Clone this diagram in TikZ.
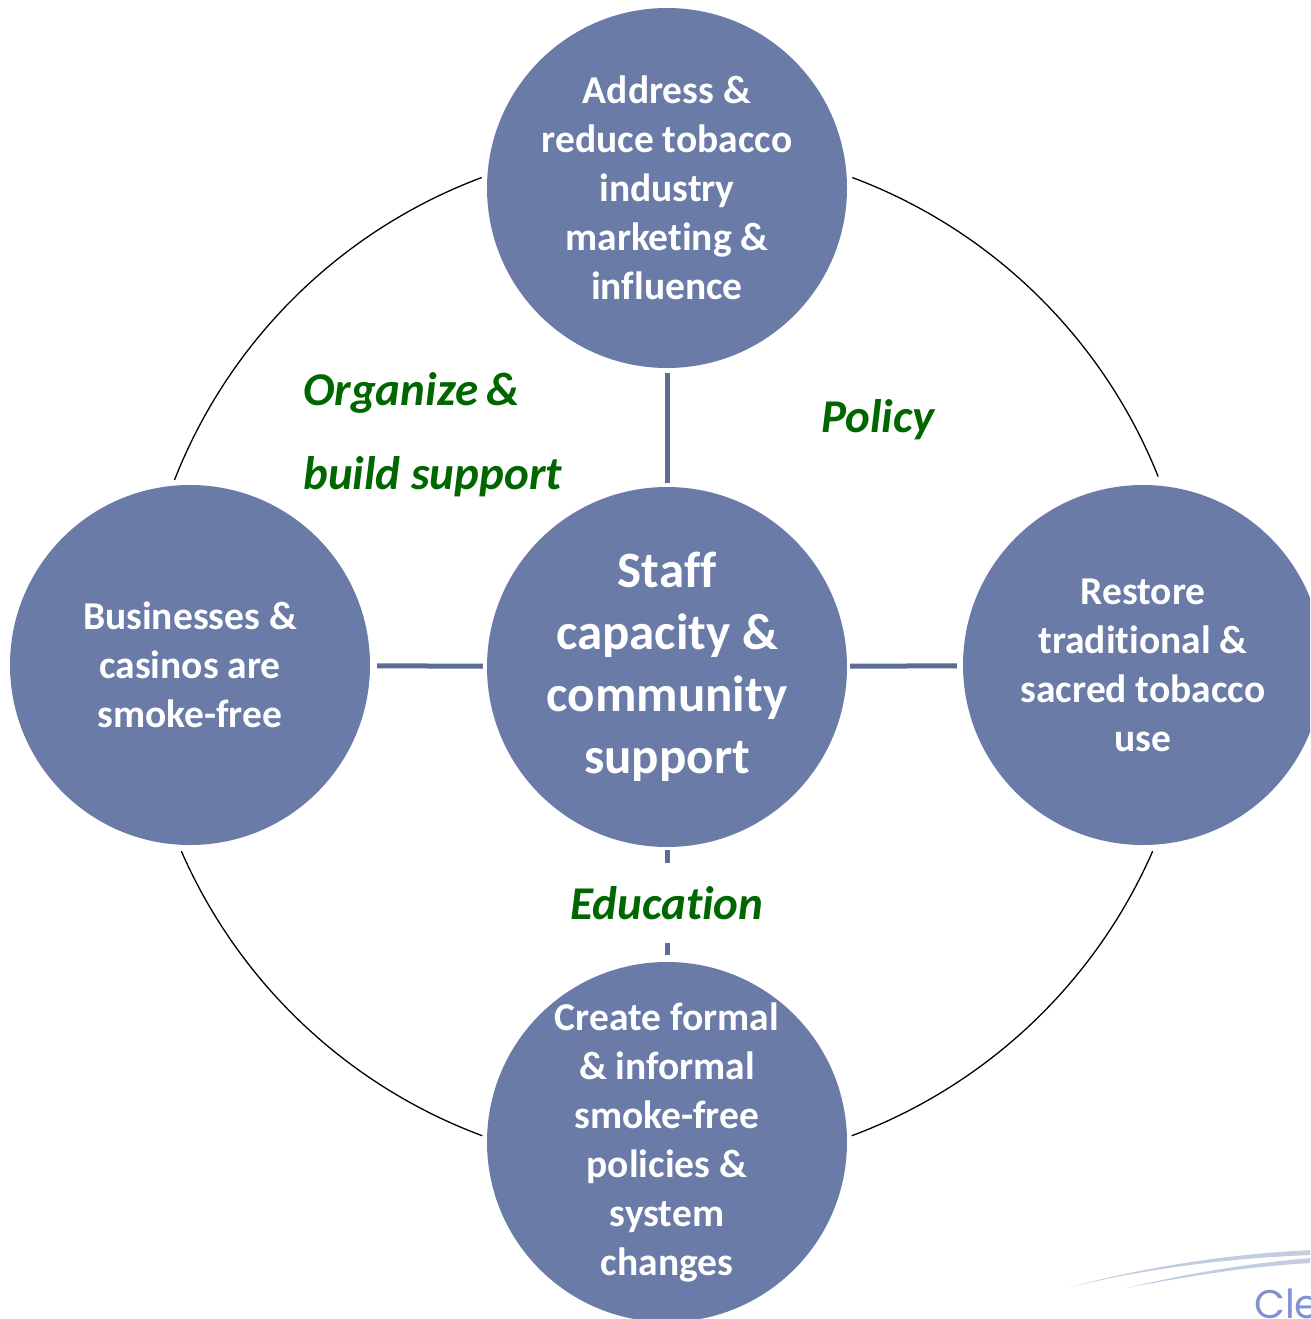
\documentclass[tikz,border=0pt]{standalone}
\usepackage{fontspec}
\setmainfont[Ligatures=NoCommon]{Carlito}
\newfontfamily\logofont{Poppins}
\definecolor{disc}{HTML}{6A7BA8}
\definecolor{spoke}{HTML}{5C6C94}
\definecolor{lbl}{HTML}{006600}
\definecolor{logoblue}{HTML}{8191D2}
\definecolor{swoosh}{HTML}{C3CDE0}
\tikzset{
  disc/.style={circle, fill=disc, minimum size=360pt, inner sep=0pt,
    align=center, text=white, font=\bfseries\fontsize{39.5}{49}\selectfont},
  hubdisc/.style={disc, font=\bfseries\fontsize{51}{62}\selectfont},
  spokeline/.style={draw=spoke, line width=5pt},
  ring/.style={draw=black, line width=1.3pt},
  theme/.style={text=lbl, font=\bfseries\itshape\fontsize{47}{50}\selectfont, inner sep=0pt}
}
\begin{document}
\begin{tikzpicture}[x=1pt, y=1pt]
\clip (0,0) rectangle (1310,-1319);
\fill[white] (0,0) rectangle (1310,-1319);

% outer ring, drawn as four separate arcs between the discs
\draw[ring] (667,-673) ++(110.5:529pt) arc[start angle=110.5, end angle=158.6, radius=529pt];
\draw[ring] (667,-673) ++(69.5:529pt) arc[start angle=69.5, end angle=21.8, radius=529pt];
\draw[ring] (667,-639) ++(203.6:530pt) arc[start angle=203.6, end angle=249.6, radius=530pt];
\draw[ring] (667,-639) ++(336.4:530pt) arc[start angle=336.4, end angle=290.4, radius=530pt];

% discs
\node[hubdisc] (hub) at (667,-667) {Staff\\capacity \&\\community\\support};
\node[disc] (top) at (667,-188) {Address \&\\reduce tobacco\\industry\\marketing \&\\influence};
\node[disc] (left) at (190,-665) {Businesses \&\\casinos are\\smoke-free};
\node[disc] (right) at (1143,-665) {Restore\\traditional \&\\sacred tobacco\\use};
\node[disc] (bottom) at (667,-1142) {Create formal\\\& informal\\smoke-free\\policies \&\\system\\changes};

% theme labels
\node[theme, anchor=base west] (org) at (303,-405) {Organize\,\&};
\node[theme, anchor=base west] (build) at (303,-489) {build support};
\node[theme, anchor=base] (policy) at (878,-432) {Policy};
\node[theme, minimum height=80pt] (edu) at (667,-903) {Education};

% spokes from the hub
\draw[spokeline, shorten <=4pt, shorten >=5pt] (hub) -- (top);
\draw[spokeline, shorten <=4pt, shorten >=7pt] (hub) -- (left);
\draw[spokeline, shorten <=3pt, shorten >=6pt] (hub) -- (right);
\draw[spokeline, shorten <=3pt] (hub) -- (edu);
\draw[spokeline, shorten >=7pt] (edu) -- (bottom);

% corner logo
\fill[swoosh] (1070,-1287) .. controls (1150,-1266) and (1230,-1254) .. (1312,-1250)
  -- (1312,-1255) .. controls (1230,-1258) and (1150,-1268) .. (1070,-1287) -- cycle;
\fill[swoosh] (1126,-1288) .. controls (1190,-1273) and (1250,-1263) .. (1312,-1258)
  -- (1312,-1263) .. controls (1250,-1266) and (1190,-1276) .. (1126,-1288) -- cycle;
\node[anchor=base west, inner sep=0pt, text=logoblue, font=\logofont\fontsize{40}{40}\selectfont] (logo) at (1254,-1318) {Cle};
\end{tikzpicture}
\end{document}
